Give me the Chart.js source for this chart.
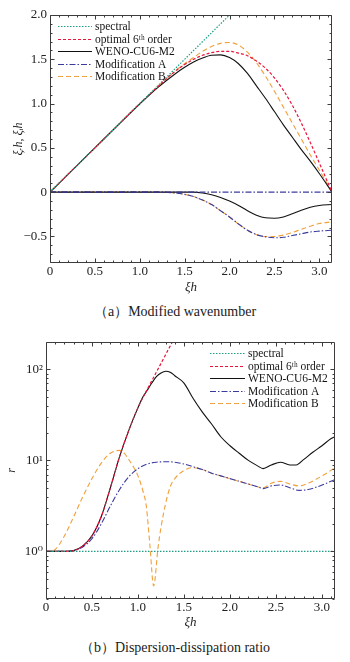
<!DOCTYPE html>
<html>
<head>
<meta charset="utf-8">
<script src="https://cdn.jsdelivr.net/npm/chart.js@4.4.1/dist/chart.umd.min.js"></script>
<style>
  html, body { margin: 0; padding: 0; background: #fff; }
  body { width: 350px; height: 662px; position: relative; overflow: hidden; font-family: "Liberation Serif", serif; }
  canvas { position: absolute; left: 0; }
  #chartA { top: 0; }
  #chartB { top: 330px; }
  .caption { position: absolute; left: 0; width: 350px; text-align: center; font-size: 14px; line-height: 16px; color: #1a1a1a; }
</style>
</head>
<body>
<canvas id="chartA" width="350" height="300"></canvas>
<div class="caption" style="top:304px">（a）Modified wavenumber</div>
<canvas id="chartB" width="350" height="305"></canvas>
<div class="caption" style="top:640px">（b）Dispersion-dissipation ratio</div>
<script>
// ---- (a) modified wavenumber: real parts (upper) and imaginary parts (lower)
const xiA = [0, 0.2, 0.4, 0.6, 0.8, 1.0, 1.2, 1.4, 1.5, 1.6, 1.7, 1.8, 1.9, 2.0, 2.1, 2.2, 2.3, 2.4, 2.5, 2.6, 2.7, 2.8, 2.9, 3.0, 3.1416];
const spectralXiA = [0, 2.3];
const spectralA   = [0, 2.3];
const optimalRe = [0, 0.2, 0.4, 0.6, 0.8, 1.0, 1.19, 1.37, 1.44, 1.50, 1.545, 1.575, 1.59, 1.59, 1.57, 1.54, 1.48, 1.40, 1.29, 1.15, 0.98, 0.78, 0.56, 0.33, 0];
const wenoRe    = [0, 0.2, 0.4, 0.6, 0.8, 0.995, 1.18, 1.34, 1.41, 1.47, 1.515, 1.545, 1.55, 1.52, 1.45, 1.34, 1.20, 1.06, 0.91, 0.76, 0.62, 0.48, 0.35, 0.21, 0];
const modBRe    = [0, 0.2, 0.4, 0.6, 0.8, 1.0, 1.19, 1.37, 1.45, 1.52, 1.59, 1.645, 1.68, 1.69, 1.66, 1.58, 1.46, 1.31, 1.14, 0.96, 0.78, 0.60, 0.42, 0.25, 0];
const wenoIm    = [0, 0, 0, 0, 0, 0, 0, 0, 0, 0, -0.01, -0.03, -0.06, -0.10, -0.15, -0.21, -0.26, -0.29, -0.295, -0.28, -0.245, -0.205, -0.17, -0.15, -0.14];
const modAIm    = [0, 0, 0, 0, 0, 0, 0, -0.01, -0.025, -0.05, -0.09, -0.14, -0.21, -0.28, -0.36, -0.43, -0.48, -0.505, -0.515, -0.51, -0.49, -0.47, -0.45, -0.44, -0.43];
const modBIm    = [0, 0, 0, 0, 0, 0, 0, -0.01, -0.025, -0.05, -0.09, -0.14, -0.21, -0.28, -0.36, -0.43, -0.48, -0.50, -0.50, -0.485, -0.455, -0.42, -0.385, -0.355, -0.335];
const zeroXi = [0, 3.1416];
const zeroIm = [0, 0];
const ticksXA = [0, 0.5, 1.0, 1.5, 2.0, 2.5, 3.0];
const ticksYA = [-0.5, 0, 0.5, 1.0, 1.5, 2.0];

// ---- (b) dispersion-dissipation ratio r (log axis)
const spectralXiB = [0, 3.1416];
const spectralB   = [1, 1];
const optimalXiB = [0, 0.2, 0.3, 0.4, 0.5, 0.6, 0.7, 0.8, 0.9, 1.0, 1.1, 1.2, 1.3, 1.4, 1.5];
const optimalB   = [1, 1, 1.02, 1.15, 1.48, 2.40, 5.01, 11.0, 21.4, 38.0, 60.3, 93.3, 145, 224, 331];
const wenoXiB = [0, 0.2, 0.3, 0.4, 0.5, 0.6, 0.7, 0.8, 0.9, 1.0, 1.05, 1.1, 1.15, 1.2, 1.25, 1.3, 1.35, 1.4, 1.5, 1.6, 1.7, 1.8, 1.9, 2.0, 2.1, 2.2, 2.3, 2.36, 2.45, 2.55, 2.65, 2.72, 2.8, 2.9, 3.0, 3.1, 3.1416];
const wenoB   = [1, 1, 1.02, 1.15, 1.48, 2.40, 5.01, 11.0, 21.4, 38.0, 49.0, 58.9, 70.8, 83.2, 91.2, 95.5, 93.3, 85.1, 70.8, 47.9, 33.9, 25.1, 18.2, 14.5, 12.0, 10.0, 8.71, 8.13, 8.91, 9.55, 8.91, 8.91, 10.2, 12.3, 14.5, 17.4, 18.2];
const modAXiB = [0, 0.2, 0.3, 0.4, 0.5, 0.6, 0.7, 0.8, 0.9, 1.0, 1.1, 1.2, 1.3, 1.4, 1.5, 1.6, 1.7, 1.8, 1.9, 2.0, 2.1, 2.2, 2.3, 2.36, 2.45, 2.55, 2.65, 2.75, 2.85, 2.95, 3.05, 3.1416];
const modAB   = [1, 1, 1.02, 1.12, 1.38, 2.0, 3.16, 4.79, 6.61, 8.13, 9.12, 9.55, 9.66, 9.55, 9.12, 8.51, 7.94, 7.24, 6.76, 6.31, 5.89, 5.50, 5.13, 4.90, 5.25, 5.37, 5.01, 4.68, 4.79, 5.13, 5.62, 6.17];
const modBXiB = [0, 0.05, 0.1, 0.2, 0.3, 0.4, 0.5, 0.6, 0.7, 0.8, 0.85, 0.9, 0.95, 1.0, 1.06, 1.09, 1.13, 1.17, 1.22, 1.28, 1.35, 1.4, 1.5, 1.6, 1.7, 1.8, 1.9, 2.0, 2.1, 2.2, 2.3, 2.36, 2.45, 2.55, 2.65, 2.75, 2.85, 2.95, 3.05, 3.1416];
const modBB   = [1, 1, 1.05, 1.48, 2.40, 3.98, 6.31, 9.33, 12.0, 12.9, 12.0, 10.2, 8.51, 6.76, 4.37, 3.16, 1.15, 0.417, 1.15, 2.69, 5.13, 6.31, 7.76, 8.32, 7.94, 7.24, 6.76, 6.31, 5.89, 5.50, 5.13, 5.01, 5.62, 5.89, 5.50, 5.25, 5.62, 6.31, 7.24, 8.32];
const ticksYB = [1, 10, 100];
const labelsYB = ['10⁰', '10¹', '10²'];

const labels = ['spectral', 'optimal 6ᵗʰ order', 'WENO-CU6-M2', 'Modification A', 'Modification B'];
const styles = [
  { borderColor: '#1f9e88', borderWidth: 1.2, borderDash: [1.5, 1.5] },
  { borderColor: '#e8143c', borderWidth: 1.2, borderDash: [3, 2] },
  { borderColor: '#111111', borderWidth: 1.1, borderDash: [] },
  { borderColor: '#3b3b9e', borderWidth: 1.1, borderDash: [6, 2, 1.5, 2] },
  { borderColor: '#f0a03c', borderWidth: 1.1, borderDash: [5, 3] }
];

const pts = (xs, ys) => xs.map((v, i) => ({ x: v, y: ys[i] }));
const serif = '"Liberation Serif", "DejaVu Serif", serif';

function series(k, xs, ys, inLegend) {
  return Object.assign({ label: labels[k], data: pts(xs, ys), legend: inLegend, fill: false }, styles[k]);
}

// frame with inward ticks on all four sides
function frameTicks(xMajor, xMinor, yMajor, yMinor) {
  return {
    id: 'frameTicks',
    afterDatasetsDraw(chart) {
      const { ctx, chartArea: a, scales: { x, y } } = chart;
      const L = Math.round(a.left) + 0.5, R = Math.round(a.right) - 0.5;
      const T = Math.round(a.top) + 0.5, B = Math.round(a.bottom) - 0.5;
      ctx.save();
      ctx.strokeStyle = '#3c3c3c';
      ctx.lineWidth = 1;
      ctx.setLineDash([]);
      ctx.beginPath();
      ctx.rect(L, T, R - L, B - T);
      const xt = (v, len) => {
        const p = Math.round(x.getPixelForValue(v)) + 0.5;
        ctx.moveTo(p, B); ctx.lineTo(p, B - len);
        ctx.moveTo(p, T); ctx.lineTo(p, T + len);
      };
      const yt = (v, len) => {
        const p = Math.round(y.getPixelForValue(v)) + 0.5;
        ctx.moveTo(L, p); ctx.lineTo(L + len, p);
        ctx.moveTo(R, p); ctx.lineTo(R - len, p);
      };
      xMajor.forEach(v => xt(v, 4));
      xMinor.forEach(v => xt(v, 2));
      yMajor.forEach(v => yt(v, 4));
      yMinor.forEach(v => yt(v, 2));
      ctx.stroke();
      ctx.restore();
    }
  };
}

function insideLegend(dx, dy, gap, lineLen) {
  return {
    id: 'insideLegend',
    afterDraw(chart) {
      const { ctx, chartArea: a } = chart;
      const items = chart.data.datasets.filter(d => d.legend);
      ctx.save();
      ctx.font = '11.5px ' + serif;
      ctx.textBaseline = 'middle';
      items.forEach((d, i) => {
        const yy = Math.round(a.top + dy + i * gap) + 0.5;
        ctx.strokeStyle = d.borderColor;
        ctx.lineWidth = d.borderWidth;
        ctx.setLineDash(d.borderDash);
        ctx.beginPath();
        ctx.moveTo(a.left + dx, yy);
        ctx.lineTo(a.left + dx + lineLen, yy);
        ctx.stroke();
        ctx.setLineDash([]);
        ctx.fillStyle = '#151515';
        ctx.fillText(d.label, a.left + dx + lineLen + 3, yy);
      });
      ctx.restore();
    }
  };
}

function axisX(height) {
  return {
    type: 'linear', min: 0, max: Math.PI,
    grid: { display: false, drawTicks: false }, border: { display: false },
    afterBuildTicks: s => { s.ticks = ticksXA.map(v => ({ value: v })); },
    afterFit: s => { s.height = height; },
    ticks: {
      padding: 1, maxRotation: 0, autoSkip: false, color: '#222',
      font: { family: serif, size: 13 },
      callback: v => v === 0 ? '0' : v.toFixed(1)
    },
    title: { display: true, text: 'ξh', color: '#222', padding: { top: 0, bottom: 5 },
      font: { family: serif, size: 13, style: 'italic' } }
  };
}

const step = (a, b, d) => { const out = []; for (let v = a; v <= b + 1e-9; v += d) out.push(+v.toFixed(3)); return out; };
const xMinor = step(0.1, 3.1, 0.1).filter(v => Math.abs(v * 2 - Math.round(v * 2)) > 1e-6);

// ---- chart (a)
new Chart(document.getElementById('chartA'), {
  type: 'line',
  data: {
    datasets: [
      series(0, spectralXiA, spectralA, true),
      series(1, xiA, optimalRe, true),
      series(2, xiA, wenoRe, true),
      series(3, zeroXi, zeroIm, true),
      series(4, xiA, modBRe, true),
      series(2, xiA, wenoIm, false),
      series(3, xiA, modAIm, false),
      series(4, xiA, modBIm, false)
    ]
  },
  options: {
    responsive: false, animation: false,
    layout: { padding: { top: 15, right: 18, bottom: 0, left: 0 } },
    plugins: { legend: { display: false }, tooltip: { enabled: false } },
    elements: { point: { radius: 0 }, line: { cubicInterpolationMode: 'monotone' } },
    scales: {
      x: axisX(37),
      y: {
        type: 'linear', min: -0.8, max: 2.0,
        grid: { display: false, drawTicks: false }, border: { display: false },
        afterBuildTicks: s => { s.ticks = ticksYA.map(v => ({ value: v })); },
        afterFit: s => { s.width = 50; },
        ticks: { padding: 3, color: '#222', font: { family: serif, size: 13 },
          callback: v => v === 0 ? '0' : (v < 0 ? '−' + (-v).toFixed(1) : v.toFixed(1)) },
        title: { display: true, text: 'ξᵣh, ξᵢh', color: '#222', padding: { top: 12, bottom: 0 },
          font: { family: serif, size: 12, style: 'italic' } }
      }
    }
  },
  plugins: [
    frameTicks(ticksXA, xMinor, ticksYA, step(-0.7, 1.9, 0.1).filter(v => Math.abs(v * 2 - Math.round(v * 2)) > 1e-6)),
    insideLegend(8, 11, 12.6, 34)
  ]
});

// ---- chart (b)
const yMinorB = [0.3, 0.4, 0.5, 0.6, 0.7, 0.8, 0.9, 2, 3, 4, 5, 6, 7, 8, 9, 20, 30, 40, 50, 60, 70, 80, 90];
new Chart(document.getElementById('chartB'), {
  type: 'line',
  data: {
    datasets: [
      series(0, spectralXiB, spectralB, true),
      series(1, optimalXiB, optimalB, true),
      series(2, wenoXiB, wenoB, true),
      series(3, modAXiB, modAB, true),
      series(4, modBXiB, modBB, true)
    ]
  },
  options: {
    responsive: false, animation: false,
    layout: { padding: { top: 12, right: 15, bottom: 0, left: 0 } },
    plugins: { legend: { display: false }, tooltip: { enabled: false } },
    elements: { point: { radius: 0 }, line: { cubicInterpolationMode: 'monotone' } },
    scales: {
      x: axisX(36),
      y: {
        type: 'logarithmic', min: 0.3, max: 200,
        grid: { display: false, drawTicks: false }, border: { display: false },
        afterBuildTicks: s => { s.ticks = ticksYB.map(v => ({ value: v })); },
        afterFit: s => { s.width = 46; },
        ticks: { padding: 3, color: '#222', font: { family: serif, size: 13 },
          callback: v => labelsYB[ticksYB.indexOf(v)] },
        title: { display: true, text: 'r', color: '#222', padding: { top: 5, bottom: 0 },
          font: { family: serif, size: 12, style: 'italic' } }
      }
    }
  },
  plugins: [
    frameTicks(ticksXA, xMinor, ticksYB, yMinorB),
    insideLegend(164, 11, 12.5, 35)
  ]
});
</script>
</body>
</html>
